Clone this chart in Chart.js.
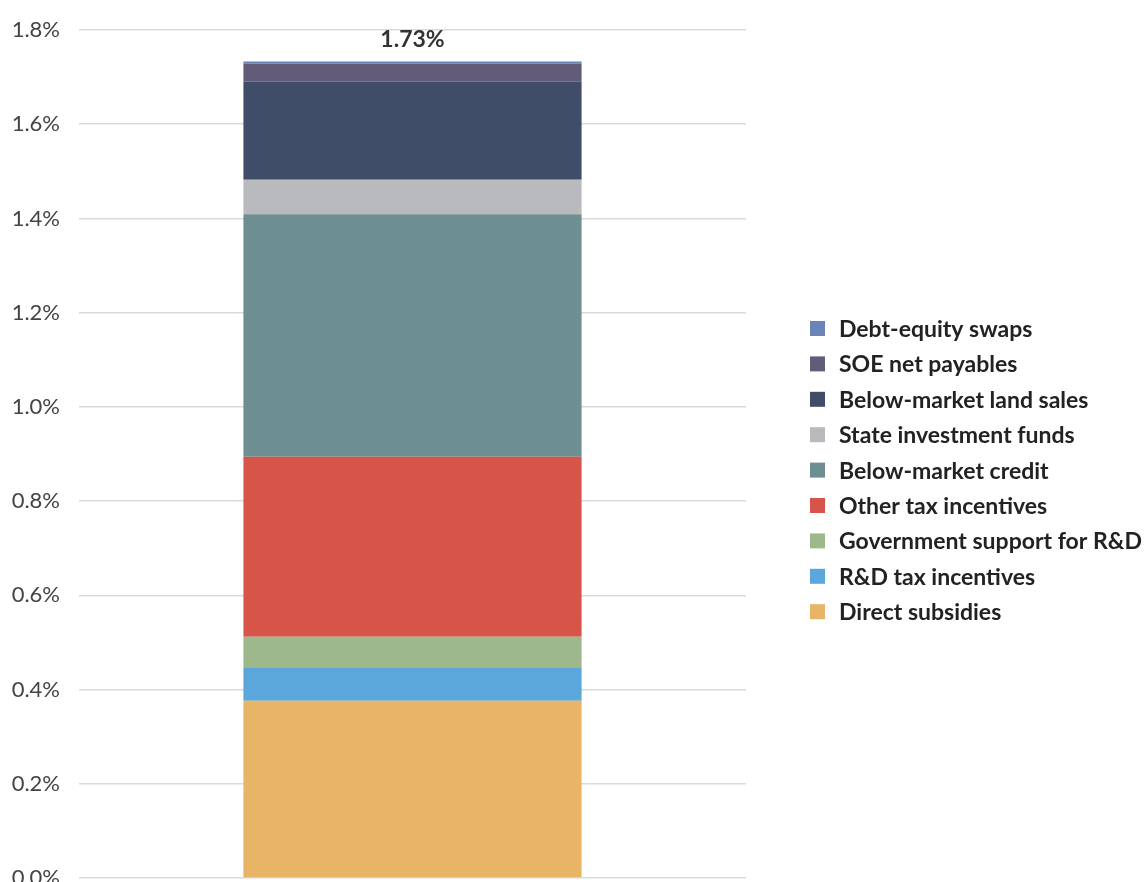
<!DOCTYPE html>
<html>
<head>
<meta charset="utf-8">
<script src="https://cdn.jsdelivr.net/npm/chart.js@4.4.1/dist/chart.umd.min.js"></script>
<style>
  html, body { margin: 0; padding: 0; background: #ffffff; overflow: hidden; }
  canvas { display: block; }
</style>
</head>
<body>
<canvas id="chart" width="1146" height="908"></canvas>
<script>
// Subsidy components, bottom of the stack first (% of GDP)
const categories = [''];
const seriesNames = [
  'Direct subsidies',
  'R&D tax incentives',
  'Government support for R&D',
  'Other tax incentives',
  'Below-market credit',
  'State investment funds',
  'Below-market land sales',
  'SOE net payables',
  'Debt-equity swaps'
];
const seriesValues = [0.376, 0.070, 0.066, 0.382, 0.515, 0.073, 0.208, 0.039, 0.004];
const seriesColors = [
  '#E8B466', '#5BA7DC', '#9DB98B', '#D65548', '#6E8F91',
  '#B9BABE', '#3F4D69', '#635C78', '#6A84BA'
];
const yTicks = [0, 0.2, 0.4, 0.6, 0.8, 1.0, 1.2, 1.4, 1.6, 1.8];

const FONT = 'Lato, "Noto Sans", sans-serif';

const datasets = seriesNames.map((name, i) => ({
  label: name,
  data: [seriesValues[i]],
  backgroundColor: seriesColors[i],
  borderWidth: 0,
  categoryPercentage: 1.0,
  barPercentage: 0.507
}));

// Total printed above the stack
const totalLabel = {
  id: 'totalLabel',
  afterDatasetsDraw(chart) {
    const ctx = chart.ctx;
    const total = chart.data.datasets.reduce((s, d) => s + d.data[0], 0);
    const x = chart.scales.x.getPixelForValue(0);
    const y = chart.scales.y.getPixelForValue(total);
    ctx.save();
    ctx.font = 'bold 23px ' + FONT;
    ctx.fillStyle = '#333333';
    ctx.textAlign = 'center';
    ctx.textBaseline = 'middle';
    ctx.fillText(total.toFixed(2) + '%', x, y - 22);
    ctx.restore();
  }
};

// Legend on the right, top of the stack listed first
const sideLegend = {
  id: 'sideLegend',
  afterDraw(chart) {
    const ctx = chart.ctx;
    const ds = chart.data.datasets.slice().reverse();
    const boxX = 810, box = 15, textX = 839, y0 = 328.5, step = 35.4;
    ctx.save();
    ctx.font = 'bold 23px ' + FONT;
    ctx.textAlign = 'left';
    ctx.textBaseline = 'middle';
    ds.forEach((d, i) => {
      const cy = y0 + i * step;
      ctx.fillStyle = d.backgroundColor;
      ctx.fillRect(boxX, cy - box / 2, box, box);
      ctx.fillStyle = '#222222';
      ctx.fillText(d.label, textX, cy + 1);
    });
    ctx.restore();
  }
};

new Chart(document.getElementById('chart'), {
  type: 'bar',
  data: { labels: categories, datasets },
  options: {
    responsive: false,
    animation: false,
    layout: { padding: { top: 29, right: 400, left: 0, bottom: 0 } },
    plugins: {
      legend: { display: false },
      tooltip: { enabled: false }
    },
    scales: {
      x: {
        stacked: true,
        display: false
      },
      y: {
        stacked: true,
        min: 0,
        max: 1.8,
        afterBuildTicks(scale) {
          scale.ticks = yTicks.map(v => ({ value: v }));
        },
        afterFit(scale) { scale.width = 79; },
        border: { display: false },
        grid: { color: '#dadada', lineWidth: 1.5, drawTicks: false },
        ticks: {
          padding: 19,
          color: '#444444',
          font: { family: FONT, size: 22, lineHeight: 1.0 },
          callback: v => v.toFixed(1) + '%'
        }
      }
    }
  },
  plugins: [totalLabel, sideLegend]
});
</script>
</body>
</html>
